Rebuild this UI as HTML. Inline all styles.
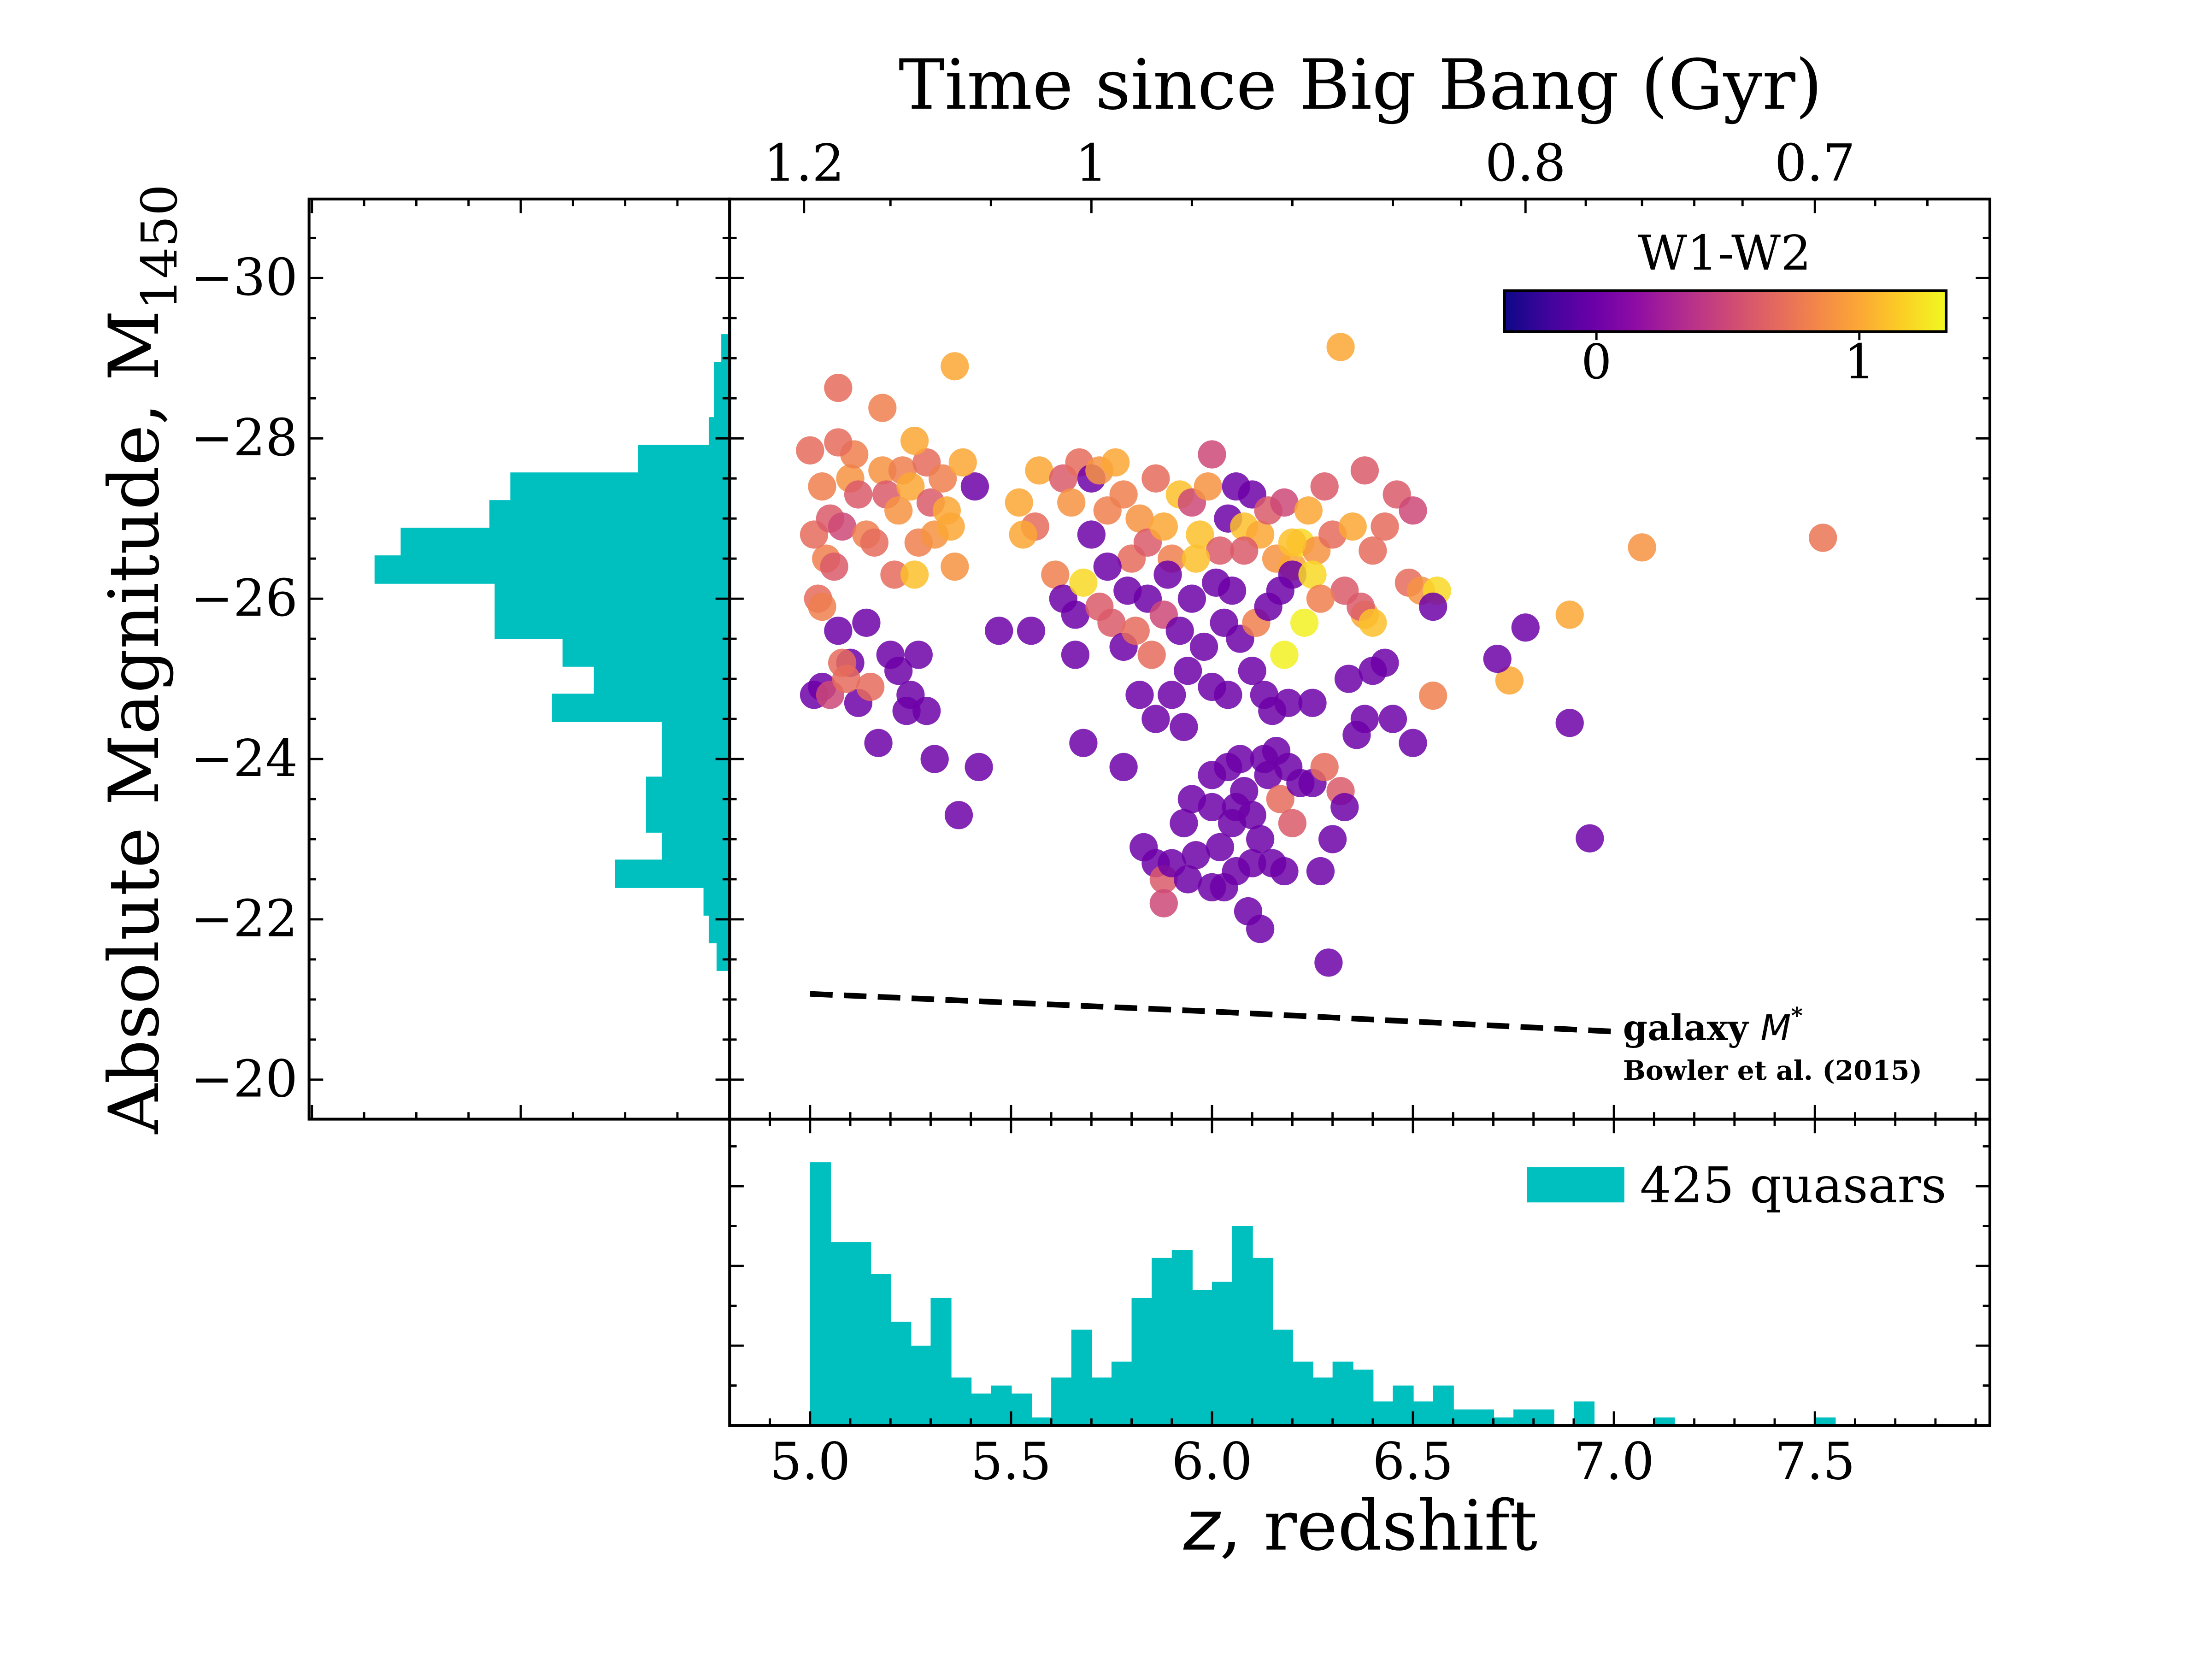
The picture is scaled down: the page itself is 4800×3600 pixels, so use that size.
<!DOCTYPE html>
<html><head><meta charset="utf-8"><style>
html,body{margin:0;padding:0;background:#fff}
svg{display:block}
text{font-family:"DejaVu Serif","Liberation Serif",serif;fill:#000}
</style></head><body>
<svg id="chart" width="4800" height="3600" viewBox="0 0 1567.4 1175.5" xmlns="http://www.w3.org/2000/svg">
<defs>
<linearGradient id="plasma" x1="0" x2="1" y1="0" y2="0">
<stop offset="0" stop-color="#0d0887"/><stop offset="0.1" stop-color="#41049d"/><stop offset="0.2" stop-color="#6a00a8"/><stop offset="0.3" stop-color="#8f0da4"/><stop offset="0.4" stop-color="#b12a90"/><stop offset="0.5" stop-color="#cc4778"/><stop offset="0.6" stop-color="#e16462"/><stop offset="0.7" stop-color="#f2844b"/><stop offset="0.8" stop-color="#fca636"/><stop offset="0.9" stop-color="#fcce25"/><stop offset="1" stop-color="#f0f921"/>
</linearGradient>
</defs>
<g id="layer"></g>
</svg>
<script>
// ---- data ----
const zHistStart = 5.0, zHistWidth = 0.05;
const zHistCounts = [33,23,23,19,13,10,16,6,4,5,4,1,6,12,6,8,16,21,22,17,18,25,21,12,8,6,8,7,3,5,3,5,2,2,1,2,2,0,3,0,0,0,1,0,0,0,0,0,0,0,1];
const magHistStart = -29.3, magHistWidth = 0.345;
const magHistCounts = [1.6,3,3,4,17.5,42,46,63,68,45,45,32,26,34,13,13,16,16,13,22,5,4,2.5];
const galZ = [5.0,6.0,7.0];
const galM = [-21.07,-20.85,-20.6];
const timeLabels = ["1.2","1","0.8","0.7"];
const timeZ = [4.985,5.70,6.78,7.50];
const pts = [
[5.01,-24.8,0],[5.03,-24.9,0],[5.07,-25.6,0],[5.1,-25.2,0],[5.12,-24.7,0],[5.14,-25.7,0],[5.17,-24.2,0],[5.2,-25.3,0],[5.22,-25.1,0],[5.25,-24.8,0],[5.24,-24.6,0],[5.27,-25.3,0],[5.29,-24.6,0],[5.31,-24.0,0],[5.37,-23.3,0],[5.42,-23.9,0],[5.41,-27.4,0],[5.47,-25.6,0],[5.05,-24.8,0.5],[5.15,-24.9,0.7],[5.09,-25.0,0.7],[5.02,-26.0,0.7],[5.04,-26.5,0.8],
[5.01,-26.8,0.7],[5.03,-27.4,0.8],[5.05,-27.0,0.6],[5.08,-26.9,0.5],[5.1,-27.5,0.9],[5.12,-27.3,0.6],[5.14,-26.8,0.8],[5.16,-26.7,0.7],[5.18,-27.6,0.9],[5.19,-27.3,0.6],[5.21,-26.3,0.7],[5.22,-27.1,0.9],[5.23,-27.6,0.8],[5.25,-27.4,1.0],[5.27,-26.7,0.8],[5.29,-27.7,0.7],[5.3,-27.2,0.6],[5.31,-26.8,0.9],[5.33,-27.5,0.8],[5.34,-27.1,1.0],[5.36,-26.4,0.9],[5.38,-27.7,1.0],[5.26,-26.3,1.1],[5.03,-25.9,0.8],[5.06,-26.4,0.6],[5.08,-25.2,0.7],[5.11,-27.8,0.8],[5.35,-26.9,1.0],
[5.0,-27.85,0.7],[5.07,-28.63,0.7],[5.07,-27.95,0.7],[5.18,-28.38,0.8],[5.26,-27.97,1.0],[5.36,-28.9,1.0],[6.32,-29.14,1.0],[7.52,-26.76,0.75],[7.07,-26.64,0.9],[6.89,-25.8,1.0],[6.74,-24.98,1.0],[6.55,-24.79,0.8],[6.94,-23.01,0],[6.89,-24.45,0],[6.78,-25.64,0],[6.71,-25.25,0],[6.29,-21.46,0],[6.12,-21.88,0],
[5.52,-27.2,1.0],[5.56,-26.9,0.7],[5.57,-27.6,1.0],[5.53,-26.8,1.0],[5.63,-27.5,0.6],[5.67,-27.7,0.7],[5.65,-27.2,0.9],[5.7,-27.5,0],[5.7,-26.8,0],[5.72,-27.6,0.9],[5.74,-27.1,0.8],[5.76,-27.7,1.0],[5.78,-27.3,0.8],[5.8,-26.5,0.7],[5.82,-27.0,0.9],[5.84,-26.7,0.6],[5.86,-27.5,0.7],[5.88,-26.9,1.0],[5.9,-26.5,0.8],[5.92,-27.3,1.1],[5.95,-27.2,0.5],[5.97,-26.8,1.1],[5.99,-27.4,0.9],[6.0,-27.8,0.5],[6.02,-26.6,0.6],[6.04,-27.0,0],[6.06,-27.4,0],[6.08,-26.9,1.1],[6.1,-27.3,0],[6.12,-26.8,1.0],[6.14,-27.1,0.6],[6.16,-26.5,0.9],[6.18,-27.2,0.5],[6.2,-26.4,1.0],[6.22,-26.7,1.2],[6.24,-27.1,1.0],[6.26,-26.6,0.9],[6.28,-27.4,0.6],[6.3,-26.8,0.7],[6.33,-26.1,0.6],[6.35,-26.9,1.0],[6.38,-27.6,0.6],[6.4,-26.6,0.7],[6.43,-26.9,0.7],[6.46,-27.3,0.6],[6.5,-27.1,0.5],[6.49,-26.2,0.7],[6.52,-26.1,0.9],[6.56,-26.1,1.2],[6.38,-25.8,1.0],[6.37,-25.9,0.6],
[5.61,-26.3,0.8],[5.63,-26.0,0],[5.66,-25.8,0],[5.66,-25.3,0],[5.68,-26.2,1.2],[5.72,-25.9,0.6],[5.74,-26.4,0],[5.75,-25.7,0.6],[5.78,-25.4,0],[5.79,-26.1,0],[5.81,-25.6,0.7],[5.82,-24.8,0],[5.84,-26.0,0],[5.85,-25.3,0.7],[5.86,-24.5,0],[5.88,-25.8,0.5],[5.89,-26.3,0],[5.9,-24.8,0],[5.92,-25.6,0],[5.93,-24.4,0],[5.94,-25.1,0],[5.95,-26.0,0],[5.96,-26.5,1.1],[5.98,-25.4,0],[6.0,-24.9,0],[6.01,-26.2,0],[6.03,-25.7,0],[6.04,-24.8,0],[6.05,-26.1,0],[6.07,-25.5,0],[6.08,-26.6,0.6],[6.1,-25.1,0],[6.11,-25.7,0.8],[6.13,-24.8,0],[6.14,-25.9,0],[6.15,-24.6,0],[6.17,-26.1,0],[6.18,-25.3,1.3],[6.19,-24.7,0],[6.2,-26.3,0],[6.23,-25.7,1.3],[6.25,-24.7,0],[6.25,-26.3,1.2],[6.27,-26.0,0.8],[6.34,-25.0,0],[6.36,-24.3,0],[6.38,-24.5,0],[6.4,-25.1,0],[6.43,-25.2,0],[6.45,-24.5,0],[6.5,-24.2,0],[6.55,-25.9,0],[6.4,-25.7,1.1],[6.2,-26.7,1.1],[5.55,-25.6,0],
[5.68,-24.2,0],[5.78,-23.9,0],[5.83,-22.9,0],[5.86,-22.7,0],[5.88,-22.5,0.6],[5.9,-22.7,0],[5.93,-23.2,0],[5.94,-22.5,0],[5.95,-23.5,0],[5.88,-22.2,0.5],[6.0,-23.4,0],[6.02,-22.9,0],[6.03,-22.4,0],[6.04,-23.9,0],[6.05,-23.2,0],[6.06,-22.6,0],[6.07,-24.0,0],[6.08,-23.6,0],[6.09,-22.1,0],[6.1,-23.3,0],[6.12,-23.0,0],[6.14,-23.8,0],[6.15,-22.7,0],[6.16,-24.1,0],[6.17,-23.5,0.7],[6.18,-22.6,0],[6.19,-23.9,0],[6.2,-23.2,0.6],[6.22,-23.7,0],[6.25,-23.7,0],[6.27,-22.6,0],[6.28,-23.9,0.7],[6.3,-23.0,0],[6.32,-23.6,0.6],[6.33,-23.4,0],[6.0,-23.8,0],[6.13,-24.0,0],[6.1,-22.7,0],[6.06,-23.4,0],[5.96,-22.8,0],[6.0,-22.4,0]
];
// ---- layout ----
const AX={l:517,r:1410,t:141,b:793}, HB={t:793,b:1010}, HL={l:219,r:517};
const X=z=>574+(z-5)*284.8;
const Y=m=>197+(m+30)*56.8;
const CY=c=>1010-c*5.65;
const CX=c=>517-c*3.7;
const NS="http://www.w3.org/2000/svg";
const L=document.getElementById('layer');
function mk(tag,attrs,parent){const e=document.createElementNS(NS,tag);for(const k in attrs)e.setAttribute(k,attrs[k]);(parent||L).appendChild(e);return e;}
function txt(s,x,y,size,anchor,extra){const t=mk('text',Object.assign({x:x,y:y,'font-size':size,'text-anchor':anchor||'middle'},extra||{}));t.textContent=s;return t;}
const stops=[[0,[13,8,135]],[0.1,[65,4,157]],[0.2,[106,0,168]],[0.3,[143,13,164]],[0.4,[177,42,144]],[0.5,[204,71,120]],[0.6,[225,100,98]],[0.7,[242,132,75]],[0.8,[252,166,54]],[0.9,[252,206,37]],[1,[240,249,33]]];
function plasma(c){let t=(c+0.35)/1.68;t=Math.max(0,Math.min(1,t));for(let i=1;i<stops.length;i++){if(t<=stops[i][0]){const a=stops[i-1],b=stops[i],f=(t-a[0])/(b[0]-a[0]);return 'rgb('+a[1].map((v,j)=>Math.round(v+(b[1][j]-v)*f)).join(',')+')';}}return 'rgb(240,249,33)';}
const teal='#00BFBF';
// left histogram
magHistCounts.forEach((c,i)=>{const y0=Y(magHistStart+i*magHistWidth),y1=Y(magHistStart+(i+1)*magHistWidth);
const r=mk('rect',{x:CX(c),y:y0,width:517-CX(c),height:y1-y0+0.5,fill:teal});

});
// bottom histogram
zHistCounts.forEach((c,i)=>{if(!c)return;const x0=X(zHistStart+i*zHistWidth),x1=X(zHistStart+(i+1)*zHistWidth);
const r=mk('rect',{x:x0,y:CY(c),width:x1-x0+0.5,height:1010-CY(c),fill:teal});

});
// scatter
pts.forEach(p=>{const c=mk('circle',{cx:X(p[0]),cy:Y(p[1]),r:10,fill:plasma(p[2]),'fill-opacity':0.85});

});
// galaxy line
const gl=mk('polyline',{points:galZ.map((z,i)=>X(z)+','+Y(galM[i])).join(' '),fill:'none',stroke:'#000','stroke-width':4,'stroke-dasharray':'16,8'});


// frames
[[AX.l,AX.t,AX.r-AX.l,AX.b-AX.t,'main-axes'],[HL.l,AX.t,HL.r-HL.l,AX.b-AX.t,'mag-hist-axes'],[AX.l,HB.t,AX.r-AX.l,HB.b-HB.t,'z-hist-axes']].forEach(f=>{
const r=mk('rect',{x:f[0],y:f[1],width:f[2],height:f[3],fill:'none',stroke:'#000','stroke-width':2});

});
function ln(x1,y1,x2,y2){mk('line',{x1:x1,y1:y1,x2:x2,y2:y2,stroke:'#000','stroke-width':1.6});}
// y ticks (mag)
for(let m=-31;m<=-19.5;m+=0.5){const y=Y(m);if(y<AX.t-0.1||y>AX.b+0.1)continue;const maj=Math.abs(m%2)<0.01;const len=maj?10:5;
ln(AX.l,y,AX.l+len,y);ln(AX.r,y,AX.r-len,y);ln(HL.l,y,HL.l+len,y);ln(HL.r,y,HL.r-len,y);
if(maj){const t=txt('\u2212'+Math.abs(m),HL.l-8,y+12,36,'end');}}
// z ticks
for(let z=4.9;z<=7.91;z+=0.1){const x=X(z);if(x<AX.l||x>AX.r)continue;const maj=Math.abs((z*2)-Math.round(z*2))<0.01;const len=maj?10:5;
ln(x,AX.b,x,AX.b-len);ln(x,HB.b,x,HB.b-len);ln(x,HB.t,x,HB.t+len);
if(maj){const t=txt(z.toFixed(1),x,1048,36);}}
// top time ticks
timeZ.forEach((z,i)=>{const x=X(z);ln(x,AX.t,x,AX.t+10);const t=txt(timeLabels[i],x,128,36);});
[5.2,5.45,5.95,6.2,6.45,6.62,6.93,7.07,7.2,7.32,7.65,7.78].forEach(z=>{const x=X(z);ln(x,AX.t,x,AX.t+5);});
// histogram count ticks
for(let c=5;c<=35;c+=5){const y=CY(c);if(y<HB.t)continue;const len=c%10===0?10:5;ln(AX.l,y,AX.l+len,y);ln(AX.r,y,AX.r-len,y);}
for(let c=10;c<=80;c+=10){const x=CX(c);if(x<HL.l)continue;const len=c%40===0?10:5;ln(x,AX.t,x,AX.t+len);ln(x,AX.b,x,AX.b-len);}
// labels
let t=txt('Time since Big Bang (Gyr)',964,77,49);
t=mk('text',{x:0,y:0,'font-size':49,'text-anchor':'middle',transform:'translate(112,467) rotate(-90)'});
t.innerHTML='Absolute Magnitude, M<tspan font-size="35" dy="13">1450</tspan>';

t=mk('text',{x:964,y:1098,'font-size':49,'text-anchor':'middle'});t.innerHTML='<tspan font-style="italic" font-family="DejaVu Sans, sans-serif">z</tspan>, redshift';

t=mk('text',{x:1150,y:737,'font-size':25,'font-weight':'bold','text-anchor':'start'});t.innerHTML='galaxy <tspan font-style="italic" font-weight="normal" font-family="DejaVu Sans, sans-serif">M</tspan><tspan font-size="16" dy="-12">*</tspan>';

t=txt('Bowler et al. (2015)',1150,765,19,'start',{'font-weight':'bold'});
// legend
let r=mk('rect',{x:1082,y:827,width:69,height:25,fill:teal});
t=txt('425 quasars',1162,852,35,'start');
// colorbar
r=mk('rect',{x:1066,y:206,width:313,height:29,fill:'url(#plasma)',stroke:'#000','stroke-width':2});
t=txt('W1-W2',1222,191,34);
[0,1].forEach(v=>{const x=1066+(v+0.35)/1.68*313;ln(x,235,x,241);const tt=txt(String(v),x,268,34);});
</script>
</body></html>
